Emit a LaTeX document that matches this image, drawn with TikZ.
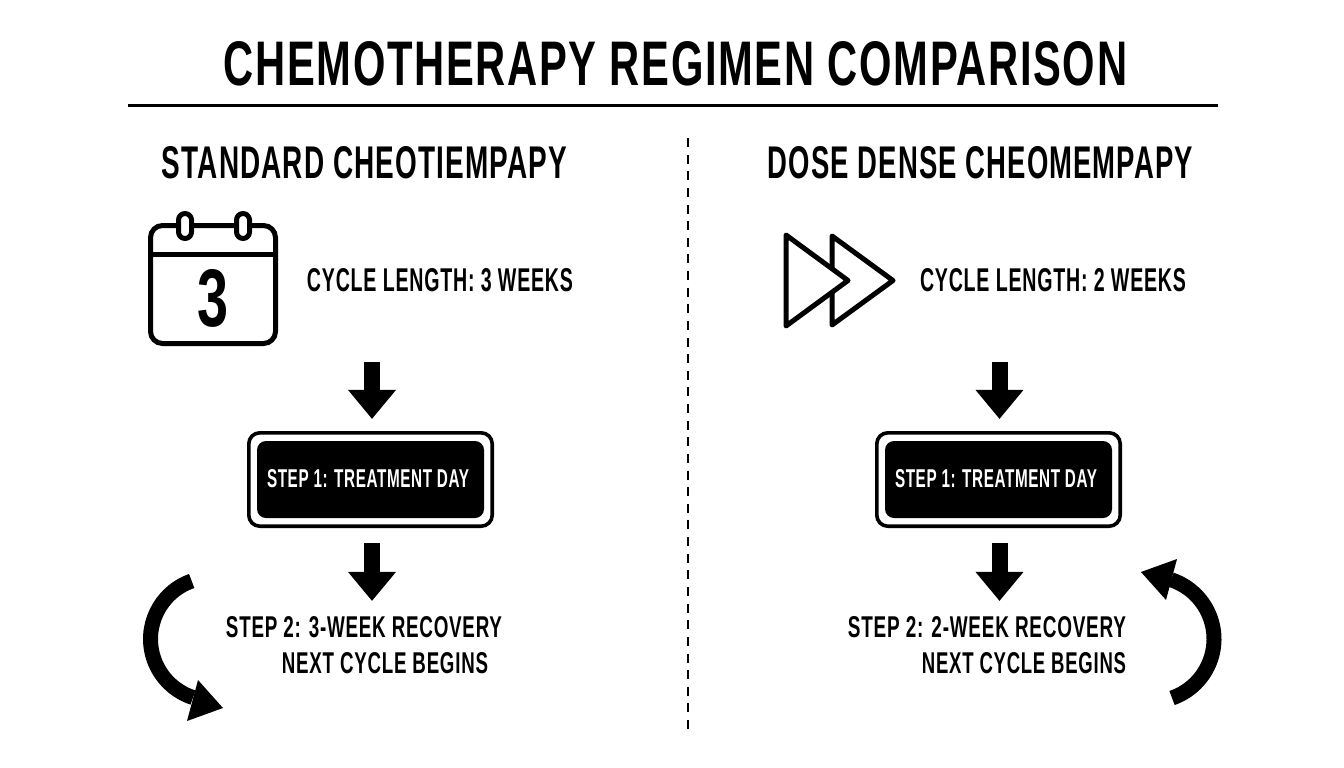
\documentclass[tikz,border=0pt]{standalone}
\usepackage{fontspec}
\usepackage{graphicx}
\setmainfont{Liberation Sans}[LetterSpace=4]
\usetikzlibrary{arrows.meta,calc}
\newlength{\pxu}\setlength{\pxu}{0.05cm}
\newcommand{\fittext}[3]{\resizebox{#1\pxu}{#2\pxu}{\bfseries #3}}
\tikzset{
  lbl/.style={inner sep=0pt,outer sep=0pt,text=black},
  blockarrow/.style={line width=16\pxu,draw=black,-{Triangle[width=65.4pt,length=41.3pt]}},
  looparc/.style={line width=15\pxu,draw=black},
  loophead/.style={fill=black,draw=none},
  icon/.style={draw=black,line width=5\pxu,line join=round},
  ring/.style={icon,fill=white,rounded corners=6.5\pxu},
  stepouter/.style={draw=black,line width=3.6\pxu,fill=white,rounded corners=11\pxu,minimum width=243.4\pxu,minimum height=93.4\pxu,inner sep=0pt,outer sep=0pt},
  stepinner/.style={fill=black,draw=none,rounded corners=9\pxu,minimum width=227\pxu,minimum height=77\pxu,inner sep=0pt},
}
\begin{document}
\begin{tikzpicture}[x=\pxu,y=-\pxu]
\useasboundingbox (0,0) rectangle (1344,768);
\fill[white] (0,0) rectangle (1344,768);
% title
\node[lbl] (title) at (675.5,63.5) {\fittext{903}{44}{CHEMOTHERAPY REGIMEN COMPARISON}};
\coordinate (ruleL) at (128,105);
\coordinate (ruleR) at (1218,105);
\draw[line width=3\pxu] (ruleL) -- (ruleR);
\coordinate (divT) at (688,138);
\coordinate (divB) at (688,729);
\draw[line width=2\pxu,dash pattern=on 9\pxu off 7.63\pxu] (divT) -- (divB);
% headings
\node[lbl] (headL) at (364.5,162.5) {\fittext{405}{32}{STANDARD CHEOTIEMPAPY}};
\node[lbl] (headR) at (980.5,162.5) {\fittext{425}{32}{DOSE DENSE CHEOMEMPAPY}};
% calendar
\draw[icon,rounded corners=12\pxu] (150.5,225.5) rectangle (275.5,343.5);
\coordinate (calL) at (150.5,254.5);
\coordinate (calR) at (275.5,254.5);
\draw[icon] (calL) -- (calR);
\draw[ring] (178.5,213.5) rectangle (191.5,238.5);
\draw[ring] (236.5,213.5) rectangle (249.5,238.5);
\node[lbl] (calnum) at (213.5,298) {\fittext{31}{57}{3}};
% fast forward
\draw[icon,fill=white] (832,236) -- (893,280.5) -- (832,325) -- cycle;
\draw[icon,fill=white] (786,235) -- (848,280.5) -- (786,326) -- cycle;
% cycle labels
\node[lbl] (cycL) at (440,280.5) {\fittext{266}{23}{CYCLE LENGTH: 3 WEEKS}};
\node[lbl] (cycR) at (1053,280.5) {\fittext{266}{23}{CYCLE LENGTH: 2 WEEKS}};
% step boxes
\node[stepouter] (boxLo) at (370.5,479.5) {};
\node[stepinner] (boxL) at (370.5,479.5) {};
\node[lbl] (boxLt) at (368,479) {\color{white}\fittext{202}{18}{STEP 1: TREATMENT DAY}};
\node[stepouter] (boxRo) at (998.5,479.5) {};
\node[stepinner] (boxR) at (998.5,479.5) {};
\node[lbl] (boxRt) at (996,479) {\color{white}\fittext{202}{18}{STEP 1: TREATMENT DAY}};
% down arrows
\coordinate (a1s) at (372,362);
\coordinate (a2e) at (372,601);
\coordinate (b1s) at (999.5,362);
\coordinate (b2e) at (999.5,601);
\draw[blockarrow,shorten >=13.8\pxu] (a1s) -- (a1s |- boxLo.north);
\draw[blockarrow,shorten <=16.8\pxu] (a2e |- boxLo.south) -- (a2e);
\draw[blockarrow,shorten >=13.8\pxu] (b1s) -- (b1s |- boxRo.north);
\draw[blockarrow,shorten <=16.8\pxu] (b2e |- boxRo.south) -- (b2e);
% step 2 labels
\node[lbl] (s2L) at (364,627.5) {\fittext{276}{21}{STEP 2: 3-WEEK RECOVERY}};
\node[lbl] (s3L) at (385,663.5) {\fittext{206}{21}{NEXT CYCLE BEGINS}};
\node[lbl] (s2R) at (987,627.5) {\fittext{278}{21}{STEP 2: 2-WEEK RECOVERY}};
\node[lbl] (s3R) at (1024,663.5) {\fittext{204}{21}{NEXT CYCLE BEGINS}};
% loop arrows
\draw[looparc] (191.7,581) arc[start angle=250.7,end angle=108,radius=61.5];
\fill[loophead] (198,680) -- (223,708) -- (187,721) -- cycle;
\draw[looparc] (1172,698) arc[start angle=70.9,end angle=-71.8,radius=62.4];
\fill[loophead] (1177,559) -- (1141,572) -- (1166,600) -- cycle;
\end{tikzpicture}
\end{document}
